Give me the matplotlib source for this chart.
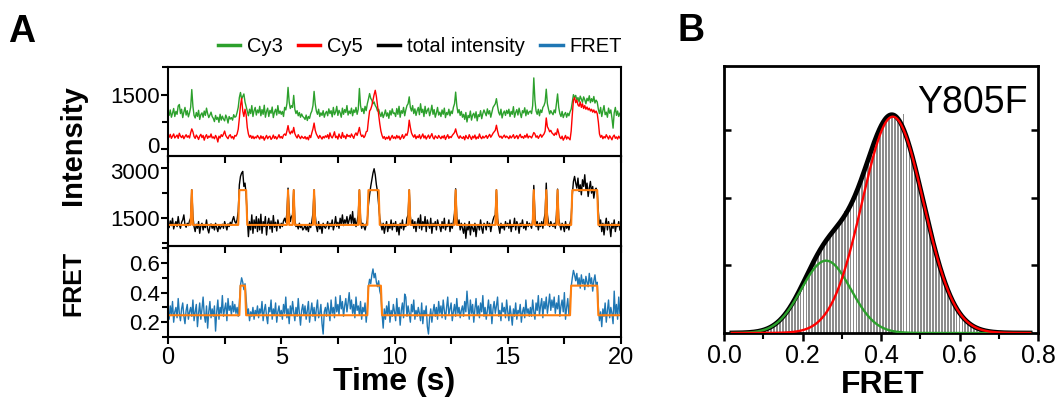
import numpy as np
import matplotlib
matplotlib.use("Agg")
import matplotlib.pyplot as plt
import matplotlib.transforms as mtransforms
from matplotlib.lines import Line2D
from matplotlib.ticker import MultipleLocator, FormatStrFormatter, FixedLocator

plt.rcParams['font.family'] = ['Liberation Sans', 'DejaVu Sans']

# ---------------- DATA ----------------
frame_time = 0.05  # s per frame

# Cy3 donor intensity (one row = 1 s)
cy3 = [
    1010, 930, 1080, 880, 990, 1120, 900, 1040, 960, 1190, 1230, 980, 1100, 870, 1020, 1150, 940, 1060, 890, 1000,
    1150, 1640, 1180, 930, 860, 1010, 900, 1070, 820, 950, 1000, 880, 1050, 930, 1130, 980, 870, 940, 1020, 900,
    850, 760, 930, 820, 880, 740, 960, 800, 910, 830, 780, 940, 860, 720, 900, 830, 870, 800, 950, 880,
    900, 1010, 1150, 1420, 1560, 1380, 1450, 1520, 1300, 1180, 1050, 920, 1100, 980, 1200, 900, 1060, 1150, 940, 1080,
    1000, 1180, 920, 1090, 960, 1210, 880, 1040, 1130, 900, 1070, 990, 1160, 870, 1020, 1100, 940, 1200, 980, 1050,
    960, 1040, 900, 1150, 1080, 1250, 1700, 1300, 1120, 1200, 1150, 1480, 1100, 980, 1060, 920, 1010, 880, 970, 900,
    870, 820, 940, 790, 900, 850, 980, 1050, 1200, 1590, 1250, 1050, 960, 1100, 900, 1000, 930, 1060, 880, 990,
    1040, 920, 1110, 980, 1060, 890, 1150, 950, 1020, 1180, 930, 1070, 1000, 880, 1130, 960, 1090, 1010, 1200, 940,
    1050, 980, 1130, 920, 1080, 1010, 1150, 960, 1100, 1670, 1200, 1040, 1120, 980, 1180, 1060, 1250, 1380, 1530, 1400,
    1350, 1250, 1300, 1200, 1150, 1050, 1100, 980, 900, 1020, 870, 960, 1080, 910, 1000, 850, 1060, 940, 1110, 980,
    1000, 900, 1120, 960, 1180, 880, 1060, 990, 1150, 920, 1080, 1200, 1250, 1440, 1150, 1050, 1200, 980, 1110, 930,
    1060, 1150, 950, 1250, 1010, 1100, 900, 1180, 980, 1070, 1130, 920, 1040, 1210, 960, 1090, 880, 1000, 1150, 940,
    1020, 900, 1080, 960, 1130, 870, 1010, 950, 1100, 920, 1050, 980, 1150, 1250, 1570, 1200, 1000, 1090, 930, 1040,
    880, 960, 820, 1010, 750, 930, 870, 1050, 800, 940, 990, 860, 1030, 780, 950, 900, 1060, 840, 980, 1080,
    1000, 920, 1110, 970, 1060, 880, 1020, 1150, 1200, 1250, 1390, 1180, 1010, 940, 1100, 860, 990, 1050, 930, 1070,
    980, 1100, 900, 1040, 960, 1170, 880, 1010, 1090, 940, 1130, 990, 870, 1060, 1000, 1140, 920, 1080, 960, 1030,
    1050, 980, 1200, 1960, 1350, 1050, 960, 1100, 920, 1080, 1010, 1150, 1200, 1300, 1650, 1250, 1100, 970, 1060, 1000,
    950, 1080, 1000, 1250, 1520, 1150, 980, 900, 1040, 870, 960, 1010, 880, 990, 920, 1030, 1100, 1300, 1500, 1420,
    1480, 1350, 1420, 1300, 1460, 1380, 1290, 1440, 1360, 1250, 1400, 1330, 1470, 1280, 1390, 1310, 1450, 1270, 1350, 1300,
    1100, 980, 1150, 900, 1060, 1200, 950, 1020, 880, 1130, 990, 1080, 860, 580, 1000, 1150, 930, 1050, 900, 990,
]

# Cy5 acceptor intensity
cy5 = [
    380, 330, 410, 300, 360, 420, 310, 350, 390, 300, 440, 360, 320, 380, 290, 350, 400, 330, 370, 310,
    450, 560, 480, 350, 300, 390, 340, 270, 360, 410, 320, 380, 250, 350, 400, 300, 360, 330, 420, 310,
    340, 290, 380, 320, 200, 360, 310, 400, 350, 420, 500, 380, 330, 290, 370, 400, 310, 350, 280, 380,
    360, 420, 550, 850, 1200, 1400, 1050, 900, 1100, 950, 600, 420, 330, 380, 300, 360, 290, 340, 310, 380,
    330, 280, 370, 300, 350, 250, 320, 380, 290, 340, 360, 270, 310, 390, 300, 350, 280, 330, 400, 310,
    350, 300, 390, 420, 380, 500, 650, 480, 420, 500, 450, 600, 430, 360, 310, 400, 340, 290, 360, 320,
    300, 350, 280, 330, 260, 380, 320, 450, 560, 720, 520, 420, 360, 300, 380, 330, 280, 350, 310, 370,
    330, 400, 290, 450, 350, 310, 380, 480, 320, 360, 280, 420, 340, 300, 460, 330, 370, 290, 410, 350,
    380, 330, 420, 360, 300, 400, 450, 380, 480, 600, 420, 350, 390, 320, 370, 480, 500, 800, 1050, 1100,
    1200, 1350, 1500, 1620, 1450, 1200, 950, 700, 500, 380, 300, 350, 270, 330, 290, 360, 250, 320, 380, 300,
    340, 290, 380, 310, 360, 270, 330, 400, 300, 350, 420, 380, 500, 800, 600, 450, 380, 330, 400, 290,
    360, 320, 400, 290, 350, 420, 310, 370, 280, 340, 390, 300, 360, 430, 320, 280, 370, 330, 300, 380,
    330, 290, 360, 310, 380, 270, 340, 400, 300, 350, 320, 380, 420, 460, 560, 430, 350, 300, 370, 320,
    300, 350, 260, 380, 320, 290, 400, 330, 270, 360, 310, 390, 280, 340, 300, 420, 330, 290, 360, 310,
    340, 380, 300, 360, 410, 330, 380, 440, 480, 520, 660, 500, 380, 330, 360, 300, 350, 390, 320, 360,
    330, 290, 370, 310, 350, 400, 300, 340, 380, 290, 360, 410, 320, 350, 300, 380, 330, 420, 310, 360,
    350, 310, 380, 460, 420, 330, 370, 300, 360, 410, 330, 380, 420, 500, 860, 620, 560, 480, 520, 450,
    420, 380, 450, 400, 560, 440, 330, 290, 360, 250, 310, 380, 280, 340, 300, 260, 500, 950, 1350, 1420,
    1280, 1350, 1220, 1180, 1300, 1150, 1250, 1120, 1200, 1100, 1160, 1080, 1130, 1050, 1100, 1020, 1080, 1000, 1050, 980,
    750, 420, 330, 380, 290, 350, 310, 400, 340, 280, 370, 320, 260, 350, 390, 300, 340, 280, 360, 310,
]

# total intensity
total = [
    1350, 1220, 1420, 1280, 1500, 1180, 1320, 1400, 1250, 1550, 1300, 1200, 1380, 1450, 1600, 1300, 1230, 1350, 1280, 1420,
    1500, 2350, 1550, 1250, 1100, 1320, 1200, 1400, 1050, 1280, 1350, 1150, 1300, 1220, 1450, 1180, 1060, 1250, 1330, 1200,
    1280, 1150, 1350, 1220, 1100, 1300, 1180, 1250, 1320, 1200, 1400, 1270, 1150, 1330, 1250, 1380, 1300, 1450, 1550, 1400,
    1350, 1450, 1700, 2500, 2750, 2850, 2900, 2450, 2550, 2200, 1500, 950, 1400, 1150, 1600, 1050, 1450, 1200, 1550, 1100,
    1480, 1150, 1620, 1050, 1400, 1250, 1550, 1000, 1350, 1500, 1180, 1420, 1080, 1580, 1230, 1380, 1120, 1450, 1300, 1200,
    1350, 1250, 1420, 1500, 1380, 1650, 2400, 1700, 1400, 1550, 1600, 2350, 1450, 1250, 1300, 1180, 1350, 1220, 1280, 1150,
    1200, 1300, 1150, 1250, 1100, 1350, 1220, 1400, 1650, 2350, 1600, 1250, 1100, 1400, 1180, 1300, 1050, 1350, 1250, 1200,
    1280, 1400, 1180, 1350, 1250, 1450, 1150, 1300, 1550, 1250, 1380, 1200, 1500, 1320, 1600, 1280, 1450, 1350, 1550, 1300,
    1450, 1600, 1350, 1700, 1300, 1500, 1250, 1400, 1600, 2350, 1500, 1200, 1350, 1250, 1150, 1300, 1450, 1900, 2200, 2450,
    2650, 2850, 2980, 2800, 2500, 2300, 1900, 1500, 1300, 1150, 1350, 1050, 1250, 1400, 1100, 1300, 1200, 1450, 1150, 1350,
    1250, 1400, 1100, 1300, 1000, 1350, 1200, 1450, 1150, 1300, 1250, 1500, 1600, 2350, 1550, 1300, 1450, 1200, 1400, 1100,
    1350, 1500, 1200, 1600, 1150, 1400, 1250, 1550, 1100, 1450, 1300, 1200, 1500, 1050, 1350, 1250, 1400, 1150, 1450, 1300,
    1250, 1100, 1400, 1200, 1500, 1150, 1300, 1250, 1450, 1100, 1350, 1200, 1400, 1650, 2380, 1550, 1300, 1450, 1150, 1350,
    1200, 1050, 1350, 900, 1250, 1150, 1400, 1000, 1300, 1200, 1100, 1350, 950, 1250, 1300, 1150, 1450, 1200, 1050, 1350,
    1300, 1150, 1400, 1250, 1350, 1100, 1300, 1450, 1550, 1600, 2350, 1500, 1250, 1050, 1350, 1200, 1300, 1150, 1400, 1250,
    1350, 1200, 1450, 1100, 1300, 1250, 1500, 1150, 1400, 1300, 1050, 1350, 1250, 1450, 1200, 1300, 1150, 1400, 1250, 1350,
    1300, 1200, 1450, 2480, 1600, 1250, 1400, 1150, 1350, 1250, 1400, 1200, 1450, 1650, 2550, 1600, 1350, 1250, 1400, 1300,
    1250, 1350, 1200, 1600, 2370, 1500, 1300, 1150, 1350, 1250, 1100, 1400, 1200, 1300, 1150, 1350, 1500, 2200, 2600, 2750,
    2550, 2400, 2700, 2300, 2500, 2200, 2650, 2450, 2800, 2350, 2550, 2150, 2400, 2600, 2250, 2450, 2100, 2350, 2400, 2300,
    1700, 1250, 1450, 1100, 1350, 1000, 1300, 1500, 1150, 1400, 1250, 950, 1350, 1200, 1450, 1100, 1300, 1250, 1400, 1150,
]

# FRET efficiency
fret = [
    0.28, 0.22, 0.31, 0.25, 0.34, 0.20, 0.27, 0.30, 0.23, 0.36, 0.26, 0.21, 0.29, 0.33, 0.24, 0.19, 0.28, 0.32, 0.22, 0.27,
    0.30, 0.24, 0.35, 0.21, 0.27, 0.32, 0.17, 0.26, 0.33, 0.22, 0.29, 0.37, 0.25, 0.20, 0.31, 0.16, 0.27, 0.34, 0.23, 0.29,
    0.24, 0.31, 0.14, 0.27, 0.35, 0.22, 0.30, 0.26, 0.38, 0.24, 0.29, 0.33, 0.21, 0.36, 0.28, 0.31, 0.25, 0.34, 0.27, 0.32,
    0.26, 0.30, 0.24, 0.33, 0.45, 0.50, 0.47, 0.42, 0.46, 0.36, 0.25, 0.29, 0.21, 0.27, 0.24, 0.30, 0.22, 0.28, 0.25, 0.31,
    0.23, 0.29, 0.26, 0.34, 0.21, 0.28, 0.32, 0.24, 0.19, 0.30, 0.27, 0.35, 0.22, 0.29, 0.25, 0.33, 0.20, 0.27, 0.31, 0.24,
    0.28, 0.22, 0.32, 0.26, 0.37, 0.23, 0.29, 0.19, 0.31, 0.25, 0.34, 0.27, 0.21, 0.30, 0.24, 0.36, 0.26, 0.18, 0.28, 0.32,
    0.25, 0.31, 0.22, 0.28, 0.34, 0.20, 0.27, 0.33, 0.24, 0.30, 0.21, 0.29, 0.35, 0.23, 0.26, 0.32, 0.19, 0.12, 0.27, 0.30,
    0.24, 0.33, 0.28, 0.21, 0.35, 0.26, 0.30, 0.23, 0.37, 0.27, 0.32, 0.25, 0.38, 0.29, 0.34, 0.24, 0.31, 0.36, 0.27, 0.33,
    0.40, 0.29, 0.35, 0.26, 0.32, 0.23, 0.37, 0.28, 0.31, 0.25, 0.34, 0.22, 0.30, 0.27, 0.33, 0.20, 0.29, 0.44, 0.49, 0.46,
    0.52, 0.56, 0.50, 0.53, 0.47, 0.44, 0.48, 0.41, 0.38, 0.26, 0.16, 0.29, 0.22, 0.31, 0.25, 0.34, 0.20, 0.28, 0.24, 0.32,
    0.27, 0.21, 0.36, 0.25, 0.30, 0.18, 0.28, 0.33, 0.23, 0.39, 0.37, 0.24, 0.31, 0.26, 0.20, 0.32, 0.27, 0.35, 0.22, 0.28,
    0.24, 0.30, 0.26, 0.21, 0.33, 0.19, 0.28, 0.25, 0.31, 0.17, 0.12, 0.23, 0.29, 0.20, 0.27, 0.32, 0.24, 0.30, 0.22, 0.34,
    0.26, 0.31, 0.23, 0.35, 0.28, 0.22, 0.30, 0.37, 0.25, 0.29, 0.33, 0.21, 0.27, 0.32, 0.24, 0.36, 0.26, 0.30, 0.23, 0.28,
    0.31, 0.24, 0.34, 0.27, 0.41, 0.30, 0.22, 0.35, 0.26, 0.32, 0.20, 0.29, 0.36, 0.25, 0.31, 0.23, 0.33, 0.27, 0.38, 0.24,
    0.30, 0.22, 0.28, 0.35, 0.25, 0.32, 0.19, 0.29, 0.34, 0.26, 0.31, 0.37, 0.24, 0.28, 0.21, 0.33, 0.27, 0.30, 0.23, 0.35,
    0.27, 0.21, 0.31, 0.25, 0.18, 0.29, 0.24, 0.33, 0.22, 0.28, 0.26, 0.32, 0.20, 0.27, 0.30, 0.23, 0.35, 0.26, 0.29, 0.24,
    0.30, 0.24, 0.35, 0.27, 0.22, 0.33, 0.28, 0.38, 0.25, 0.31, 0.36, 0.23, 0.34, 0.29, 0.37, 0.26, 0.32, 0.39, 0.28, 0.35,
    0.30, 0.37, 0.26, 0.33, 0.29, 0.38, 0.24, 0.31, 0.35, 0.27, 0.40, 0.22, 0.30, 0.36, 0.25, 0.33, 0.44, 0.50, 0.55, 0.52,
    0.48, 0.53, 0.45, 0.50, 0.43, 0.52, 0.46, 0.49, 0.42, 0.51, 0.47, 0.44, 0.53, 0.46, 0.50, 0.41, 0.48, 0.52, 0.45, 0.47,
    0.30, 0.21, 0.27, 0.17, 0.29, 0.24, 0.33, 0.20, 0.28, 0.35, 0.23, 0.30, 0.26, 0.19, 0.41, 0.25, 0.32, 0.22, 0.37, 0.26,
]

# HMM idealized states: (first frame time, last frame time) of high-state dwells
total_levels = [1300, 2340]
total_high_dwells = [(1.05, 1.05), (3.15, 3.45), (5.30, 5.30), (5.55, 5.55), (6.45, 6.45),
                     (8.45, 8.45), (8.85, 9.30), (10.65, 10.65), (12.70, 12.70), (14.50, 14.50),
                     (16.15, 16.15), (16.70, 16.70), (17.20, 17.20), (17.85, 18.95)]
fret_levels = [0.247, 0.447]
fret_high_dwells = [(3.20, 3.40), (8.85, 9.40), (17.80, 18.95)]

# FRET histogram (panel B)
hist_first_center = 0.0525
hist_bin_width = 0.0075
hist_counts = [
    0.005, 0.008, 0.011, 0.015, 0.021, 0.030, 0.040, 0.054, 0.072, 0.094,
    0.121, 0.155, 0.195, 0.235, 0.29, 0.35, 0.41, 0.49, 0.56, 0.65,
    0.74, 0.83, 0.93, 1.00, 1.10, 1.17, 1.24, 1.31, 1.39, 1.44,
    1.52, 1.55, 1.65, 1.68, 1.80, 1.79, 1.88, 1.99, 2.07, 2.21,
    2.30, 2.46, 2.58, 2.72, 2.86, 2.92, 3.05, 3.10, 3.19, 3.22,
    3.24, 3.20, 3.19, 3.12, 3.24, 2.91, 2.77, 2.60, 2.45, 2.25,
    2.08, 1.88, 1.71, 1.52, 1.35, 1.18, 1.03, 0.89, 0.75, 0.64,
    0.53, 0.45, 0.36, 0.30, 0.24, 0.24, 0.16, 0.12, 0.094, 0.073,
    0.056, 0.042, 0.032, 0.024, 0.018, 0.013, 0.010, 0.008, 0.006, 0.005,
    0.004, 0.003, 0.002,
]
# Two-Gaussian fit: (amplitude, centre, sigma)
fit_low = (1.07, 0.26, 0.063)
fit_high = (3.20, 0.43, 0.078)

# ---------------- PLOT ----------------
W, H = 1061, 407
fig = plt.figure(figsize=(W / 100, H / 100), dpi=100)


def box(l, t, r, b):
    return [l / W, 1 - b / H, (r - l) / W, (b - t) / H]


def series_time(arr):
    return np.arange(len(arr)) * frame_time


def ideal(arr, dwells, levels):
    t = series_time(arr)
    state = np.zeros(len(t), dtype=int)
    for a, b in dwells:
        state[(t >= a - 1e-6) & (t <= b + 1e-6)] = 1
    return t, np.asarray(levels)[state]


C_GREEN = '#2ca02c'
C_RED = '#ff0000'
C_BLUE = '#1f77b4'
C_ORANGE = '#ff7f0e'

ax1 = fig.add_axes(box(168, 67, 621, 156))
ax2 = fig.add_axes(box(168, 156, 621, 246))
ax3 = fig.add_axes(box(168, 246, 621, 337))

ax1.plot(series_time(cy3), cy3, color=C_GREEN, lw=1.0)
ax1.plot(series_time(cy5), cy5, color=C_RED, lw=1.0)
ax2.plot(series_time(total), total, color='black', lw=1.0)
ax2.plot(*ideal(total, total_high_dwells, total_levels), color=C_ORANGE, lw=1.5)
ax3.plot(series_time(fret), fret, color=C_BLUE, lw=1.0)
ax3.plot(*ideal(fret, fret_high_dwells, fret_levels), color=C_ORANGE, lw=1.5)

ax1.set_ylim(-185, 2260)
ax1.yaxis.set_major_locator(FixedLocator([0, 1500]))
ax1.yaxis.set_minor_locator(FixedLocator([750, 2250]))
ax2.set_ylim(670, 3360)
ax2.yaxis.set_major_locator(FixedLocator([1500, 3000]))
ax2.yaxis.set_minor_locator(FixedLocator([750, 2250]))
ax3.set_ylim(0.1, 0.715)
ax3.yaxis.set_major_locator(FixedLocator([0.2, 0.4, 0.6]))
ax3.yaxis.set_minor_locator(FixedLocator([0.1, 0.3, 0.5, 0.7]))

for ax in (ax1, ax2, ax3):
    ax.set_facecolor('none')
    for s in ax.spines.values():
        s.set_linewidth(1.5)
    ax.set_xlim(0, 20)
    ax.xaxis.set_major_locator(MultipleLocator(5))
    ax.xaxis.set_minor_locator(MultipleLocator(2.5))
    ax.tick_params(axis='both', which='both', direction='out', width=1.5, labelsize=16, pad=1)
    ax.tick_params(axis='x', which='both', length=5)
    ax.tick_params(axis='y', which='major', length=5)
    ax.tick_params(axis='y', which='minor', length=4)
ax1.tick_params(axis='x', labelbottom=False)
ax2.tick_params(axis='x', labelbottom=False)
ax3.tick_params(axis='x', labelsize=17, pad=2)

# nudge the stacked "0" / "3000" labels apart slightly (they touch in the original)
fig.canvas.draw()
up = mtransforms.ScaledTranslation(0, 3 / 72, fig.dpi_scale_trans)
down = mtransforms.ScaledTranslation(0, -2 / 72, fig.dpi_scale_trans)
for lab in ax1.get_yticklabels():
    if lab.get_text() == '0':
        lab.set_transform(lab.get_transform() + up)
for lab in ax2.get_yticklabels():
    if lab.get_text() == '3000':
        lab.set_transform(lab.get_transform() + down)

fig.text(73 / W, 1 - 145 / H, 'Intensity', rotation=90, fontsize=21, fontweight='bold',
         ha='center', va='center')
fig.text(73 / W, 1 - 283 / H, 'FRET', rotation=90, fontsize=18, fontweight='bold',
         ha='center', va='center')
fig.text(394 / W, 1 - 382 / H, 'Time (s)', fontsize=23, fontweight='bold', ha='center', va='center')

handles = [Line2D([], [], color=c, lw=2.5) for c in (C_GREEN, C_RED, 'black', C_BLUE)]
fig.legend(handles, ['Cy3', 'Cy5', 'total intensity', 'FRET'], loc='center',
           bbox_to_anchor=(420 / W, 1 - 47 / H), ncol=4, frameon=False, fontsize=14.5,
           handlelength=1.1, handletextpad=0.35, columnspacing=0.75)

fig.text(8 / W, 1 - 42 / H, 'A', fontsize=27, fontweight='bold', va='baseline')
fig.text(678 / W, 1 - 41 / H, 'B', fontsize=27, fontweight='bold', va='baseline')

# Panel B
axB = fig.add_axes(box(724, 66, 1038, 333))
centers = hist_first_center + hist_bin_width * np.arange(len(hist_counts))
axB.bar(centers, hist_counts, width=hist_bin_width * 0.62, color='#8c8c8c', linewidth=0)

xf = np.linspace(0.02, 0.78, 500)
g_low = fit_low[0] * np.exp(-(xf - fit_low[1]) ** 2 / (2 * fit_low[2] ** 2))
g_high = fit_high[0] * np.exp(-(xf - fit_high[1]) ** 2 / (2 * fit_high[2] ** 2))
axB.plot(xf, g_low + g_high, color='black', lw=3.4, zorder=3)
axB.plot(xf, g_low, color=C_GREEN, lw=1.7, zorder=4)
axB.plot(xf, g_high, color=C_RED, lw=1.7, zorder=4)

axB.set_xlim(0, 0.8)
axB.set_ylim(0, 3.95)
for s in axB.spines.values():
    s.set_linewidth(2)
axB.xaxis.set_major_locator(MultipleLocator(0.2))
axB.xaxis.set_minor_locator(MultipleLocator(0.1))
axB.xaxis.set_major_formatter(FormatStrFormatter('%.1f'))
axB.tick_params(axis='x', which='major', direction='out', length=6, width=1.8, labelsize=18, pad=2)
axB.tick_params(axis='x', which='minor', direction='out', length=4, width=1.5)
axB.set_yticks([1, 2, 3])
axB.tick_params(axis='y', direction='in', left=True, right=True, labelleft=False,
                length=5, width=1.8)
axB.text(0.968, 0.824, 'Y805F', transform=axB.transAxes, ha='right', va='baseline', fontsize=27)
fig.text(883 / W, 1 - 385 / H, 'FRET', fontsize=23, fontweight='bold', ha='center', va='center')

fig.savefig('out.png', dpi=100)
